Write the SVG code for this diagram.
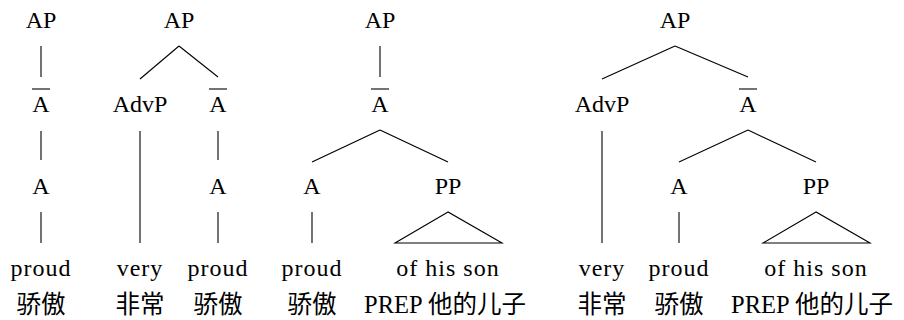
<svg xmlns="http://www.w3.org/2000/svg" width="904" height="320" viewBox="0 0 904 320">
<style>
.t{font-family:"Liberation Serif",serif;font-size:24px;fill:#000;text-anchor:middle}
.c{font-family:"Liberation Serif","Noto Sans CJK SC",serif;font-size:24.5px}
.w{letter-spacing:1px}
line,polygon,path{stroke:#000;stroke-width:1.1;fill:none}
</style>
<defs>
<path id="bar" d="M-9,89 H9"/>
</defs>
<g id="connectors">
<line x1="41" y1="46" x2="41" y2="77"/>
<line x1="41" y1="131" x2="41" y2="160"/>
<line x1="41" y1="212" x2="41" y2="243"/>
<line x1="179" y1="46" x2="140" y2="79"/>
<line x1="179" y1="46" x2="218" y2="77"/>
<line x1="140" y1="131" x2="140" y2="243"/>
<line x1="218" y1="131" x2="218" y2="160"/>
<line x1="218" y1="212" x2="218" y2="243"/>
<line x1="380" y1="46" x2="380" y2="77"/>
<line x1="380" y1="130" x2="312" y2="162"/>
<line x1="380" y1="130" x2="448" y2="162"/>
<line x1="312" y1="212" x2="312" y2="243"/>
<polygon points="448,212 395,243 502,243"/>
<line x1="675" y1="46" x2="602" y2="79"/>
<line x1="675" y1="46" x2="748" y2="77"/>
<line x1="602" y1="131" x2="602" y2="243"/>
<line x1="748" y1="130" x2="679" y2="162"/>
<line x1="748" y1="130" x2="816" y2="162"/>
<line x1="679" y1="212" x2="679" y2="243"/>
<polygon points="816,212 763,243 870,243"/>
</g>
<g id="t1-AP"><text class="t" x="41" y="28">AP</text></g>
<g id="t1-Abar"><text class="t" x="41" y="112">A</text><use href="#bar" x="41"/></g>
<g id="t1-A"><text class="t" x="41" y="194">A</text></g>
<g id="t1-proud"><text class="t w" x="41" y="276">proud</text><text class="t c" x="41" y="313">骄傲</text></g>

<g id="t2-AP"><text class="t" x="179" y="28">AP</text></g>
<g id="t2-AdvP"><text class="t" x="140" y="112">AdvP</text></g>
<g id="t2-Abar"><text class="t" x="218" y="112">A</text><use href="#bar" x="218"/></g>
<g id="t2-A"><text class="t" x="218" y="194">A</text></g>
<g id="t2-very"><text class="t w" x="140" y="276">very</text><text class="t c" x="140" y="313">非常</text></g>
<g id="t2-proud"><text class="t w" x="218" y="276">proud</text><text class="t c" x="218" y="313">骄傲</text></g>

<g id="t3-AP"><text class="t" x="380" y="28">AP</text></g>
<g id="t3-Abar"><text class="t" x="380" y="112">A</text><use href="#bar" x="380"/></g>
<g id="t3-A"><text class="t" x="312" y="194">A</text></g>
<g id="t3-PP"><text class="t" x="448" y="194">PP</text></g>
<g id="t3-proud"><text class="t w" x="312" y="276">proud</text><text class="t c" x="312" y="313">骄傲</text></g>
<g id="t3-ofhisson"><text class="t w" x="448" y="276">of his son</text><text class="t c" x="445" y="313">PREP 他的儿子</text></g>

<g id="t4-AP"><text class="t" x="675" y="28">AP</text></g>
<g id="t4-AdvP"><text class="t" x="602" y="112">AdvP</text></g>
<g id="t4-Abar"><text class="t" x="748" y="112">A</text><use href="#bar" x="748"/></g>
<g id="t4-A"><text class="t" x="679" y="194">A</text></g>
<g id="t4-PP"><text class="t" x="816" y="194">PP</text></g>
<g id="t4-very"><text class="t w" x="602" y="276">very</text><text class="t c" x="602" y="313">非常</text></g>
<g id="t4-proud"><text class="t w" x="679" y="276">proud</text><text class="t c" x="679" y="313">骄傲</text></g>
<g id="t4-ofhisson"><text class="t w" x="816" y="276">of his son</text><text class="t c" x="812" y="313">PREP 他的儿子</text></g>
</svg>
